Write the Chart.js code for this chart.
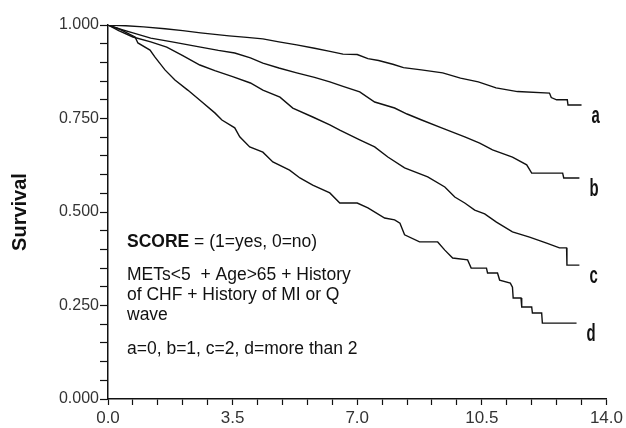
<!DOCTYPE html>
<html>
<head>
<meta charset="utf-8">
<script src="https://cdn.jsdelivr.net/npm/chart.js@4.4.1/dist/chart.umd.min.js"></script>
<style>
  html, body { margin: 0; padding: 0; background: #ffffff; }
  #wrap { width: 626px; height: 428px; position: relative; }
</style>
</head>
<body>
<div id="wrap"><canvas id="c" width="626" height="428"></canvas></div>
<script>
// ---- data (time in years, survival) ----
const seriesNames = ["a", "b", "c", "d"];

const timeA = [0, 0.5, 1.0, 1.6, 2.1, 2.6, 3.0, 3.4, 3.9, 4.35, 4.8, 5.3, 5.8, 6.2, 6.6, 7.0, 7.3, 7.6, 8.0, 8.3, 8.8, 9.4, 9.9, 10.4, 10.9, 11.5, 12.4, 12.45, 12.6, 12.9, 12.92, 13.3];
const survA = [1.0, 0.998, 0.995, 0.99, 0.985, 0.979, 0.975, 0.971, 0.967, 0.963, 0.955, 0.947, 0.938, 0.930, 0.922, 0.921, 0.910, 0.905, 0.895, 0.886, 0.880, 0.872, 0.858, 0.848, 0.832, 0.822, 0.818, 0.806, 0.800, 0.800, 0.786, 0.786];

const timeB = [0, 0.3, 0.7, 1.2, 1.8, 2.6, 3.1, 3.56, 4.0, 4.35, 4.8, 5.3, 5.8, 6.23, 6.6, 7.07, 7.49, 8.05, 8.4, 8.81, 9.37, 10.02, 10.44, 10.8, 11.36, 11.76, 11.9, 12.77, 12.8, 13.24];
const survB = [1.0, 0.99, 0.979, 0.965, 0.955, 0.941, 0.932, 0.925, 0.912, 0.898, 0.885, 0.872, 0.860, 0.848, 0.836, 0.821, 0.794, 0.778, 0.762, 0.746, 0.725, 0.701, 0.684, 0.666, 0.647, 0.626, 0.604, 0.604, 0.591, 0.591];

const timeC = [0, 0.3, 0.7, 1.2, 1.65, 2.1, 2.58, 3.0, 3.5, 4.0, 4.35, 4.83, 5.19, 5.75, 6.23, 6.51, 7.07, 7.49, 7.86, 8.33, 8.98, 9.46, 9.74, 10.02, 10.3, 10.58, 10.91, 11.36, 11.84, 12.32, 12.68, 12.88, 12.89, 13.24];
const survC = [1.0, 0.985, 0.968, 0.955, 0.941, 0.918, 0.893, 0.878, 0.862, 0.845, 0.826, 0.807, 0.778, 0.754, 0.733, 0.719, 0.693, 0.674, 0.647, 0.618, 0.594, 0.567, 0.540, 0.524, 0.505, 0.495, 0.473, 0.447, 0.433, 0.417, 0.404, 0.404, 0.358, 0.358];

const timeD = [0, 0.3, 0.53, 0.76, 0.84, 1.18, 1.32, 1.6, 1.88, 2.24, 2.64, 3.0, 3.2, 3.56, 3.7, 3.98, 4.35, 4.63, 5.1, 5.39, 5.75, 6.23, 6.51, 7.0, 7.3, 7.77, 8.05, 8.2, 8.33, 8.75, 9.26, 9.46, 9.68, 10.1, 10.2, 10.63, 10.66, 10.94, 11.0, 11.3, 11.36, 11.38, 11.6, 11.62, 11.9, 11.92, 12.18, 12.2, 13.16];
const survD = [1.0, 0.99, 0.979, 0.968, 0.952, 0.933, 0.914, 0.880, 0.853, 0.826, 0.794, 0.765, 0.746, 0.725, 0.701, 0.674, 0.660, 0.634, 0.612, 0.591, 0.572, 0.551, 0.524, 0.524, 0.511, 0.484, 0.479, 0.470, 0.439, 0.420, 0.420, 0.398, 0.377, 0.372, 0.350, 0.350, 0.337, 0.337, 0.318, 0.310, 0.299, 0.270, 0.270, 0.246, 0.246, 0.230, 0.230, 0.203, 0.203];

const xTicks = [0, 0.7, 1.4, 2.1, 2.8, 3.5, 4.2, 4.9, 5.6, 6.3, 7.0, 7.7, 8.4, 9.1, 9.8, 10.5, 11.2, 11.9, 12.6, 13.3, 14.0];
const xTickLabels = [0, 3.5, 7.0, 10.5, 14.0];
const yTicks = [0, 0.05, 0.1, 0.15, 0.2, 0.25, 0.3, 0.35, 0.4, 0.45, 0.5, 0.55, 0.6, 0.65, 0.7, 0.75, 0.8, 0.85, 0.9, 0.95, 1.0];
const yTickLabels = [0, 0.25, 0.5, 0.75, 1.0];

const yTitle = "Survival";
const noteLines = [
  "METs<5  + Age>65 + History",
  "of CHF + History of MI or Q",
  "wave"
];
const noteKey = "a=0, b=1, c=2, d=more than 2";

// ---- build datasets ----
const allTimes = [timeA, timeB, timeC, timeD];
const allSurv = [survA, survB, survC, survD];
const datasets = seriesNames.map((n, i) => ({
  label: n,
  data: allTimes[i].map((t, j) => ({ x: t, y: allSurv[i][j] })),
  borderColor: "#111111",
  borderWidth: 1.4,
  pointRadius: 0,
  fill: false,
  tension: 0
}));

const FONT = "'Liberation Sans', Arial, sans-serif";

const annotations = {
  id: "annotations",
  afterDatasetsDraw(chart) {
    const ctx = chart.ctx;
    const xs = chart.scales.x, ys = chart.scales.y;
    ctx.save();
    ctx.fillStyle = "#111111";
    ctx.textBaseline = "alphabetic";
    ctx.textAlign = "left";
    ctx.font = "bold 17.5px " + FONT;
    ctx.fillText("SCORE", 127, 247);
    const w = ctx.measureText("SCORE").width;
    ctx.font = "17.5px " + FONT;
    ctx.fillText(" = (1=yes, 0=no)", 127 + w, 247);
    noteLines.forEach((ln, i) => ctx.fillText(ln, 127, 280 + i * 20));
    ctx.fillText(noteKey, 127, 354);
    seriesNames.forEach((n, i) => {
      const t = allTimes[i][allTimes[i].length - 1];
      const v = allSurv[i][allSurv[i].length - 1];
      const px = xs.getPixelForValue(t) + 10;
      const py = ys.getPixelForValue(v) + 18;
      ctx.save();
      ctx.translate(px, py);
      ctx.scale(0.62, 1);
      ctx.font = "bold 24px " + FONT;
      ctx.fillText(n, 0, 0);
      ctx.restore();
    });
    ctx.restore();
  }
};

new Chart(document.getElementById("c"), {
  type: "line",
  data: { datasets },
  options: {
    responsive: false,
    animation: false,
    devicePixelRatio: 1,
    layout: { padding: { left: 0, right: 19, top: 25, bottom: 0 } },
    plugins: { legend: { display: false }, tooltip: { enabled: false } },
    scales: {
      x: {
        type: "linear",
        min: 0, max: 14,
        afterBuildTicks: (axis) => { axis.ticks = xTicks.map(v => ({ value: v })); },
        afterFit: (s) => { s.height = 29; },
        grid: { drawOnChartArea: false, drawTicks: true, tickLength: 6, tickColor: "#111", tickWidth: 1.2 },
        border: { display: true, color: "#111", width: 1.5 },
        ticks: {
          autoSkip: false, maxRotation: 0, padding: 3,
          color: "#333",
          font: { family: FONT, size: 17 },
          callback: (v) => xTickLabels.includes(v) ? v.toFixed(1) : ""
        }
      },
      y: {
        type: "linear",
        min: 0, max: 1,
        afterBuildTicks: (axis) => { axis.ticks = yTicks.map(v => ({ value: v })); },
        afterFit: (s) => { s.width = 108; },
        grid: { drawOnChartArea: false, drawTicks: true, tickLength: 8, tickColor: "#111", tickWidth: 1.2 },
        border: { display: true, color: "#111", width: 1.5 },
        title: {
          display: true, text: yTitle, color: "#111",
          font: { family: FONT, size: 20, weight: "bold" },
          padding: { top: 8, bottom: 0 }
        },
        ticks: {
          autoSkip: false, padding: 1,
          color: "#333",
          font: { family: FONT, size: 16 },
          callback: (v) => yTickLabels.includes(v) ? v.toFixed(3) : ""
        }
      }
    }
  },
  plugins: [annotations]
});
</script>
</body>
</html>
